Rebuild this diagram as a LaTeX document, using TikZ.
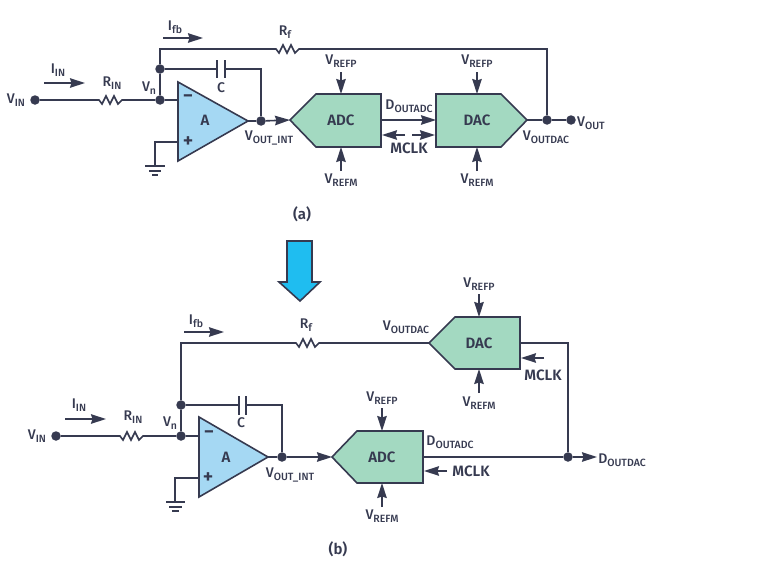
\documentclass[tikz,border=0pt]{standalone}
\usepackage{fontspec}
\usepackage{xcolor}
\usetikzlibrary{arrows.meta}
\setmainfont{Fira Sans Medium}
\newfontfamily\heavyfont{Fira Sans SemiBold}
\definecolor{wire}{HTML}{363A50}
\definecolor{ampblue}{HTML}{A5D8F3}
\definecolor{blockgreen}{HTML}{A3D9C1}
\definecolor{bigblue}{HTML}{1FBDF0}
\newcommand{\vsub}[2]{#1\raisebox{-0.35ex}{\fontsize{10.5}{10.5}\selectfont #2}}
\tikzset{
  wireline/.style={draw=wire, line width=1.6pt},
  dot/.style={circle, fill=wire, inner sep=0pt, minimum size=9.5pt},
  lab/.style={text=wire, inner sep=0pt, font=\fontsize{14}{14}\selectfont},
  blocklab/.style={lab, font=\heavyfont\fontsize{15}{15}\selectfont},
  signlab/.style={lab, font=\heavyfont\fontsize{20}{20}\selectfont},
  flow/.style={wireline, -{Stealth[length=15pt, width=9.5pt, inset=1.5pt]}},
  res/.style={to path={-- ++(3,4) -- ++(4,-8) -- ++(4,8) -- ++(4,-8) -- ++(4,8) -- ++(4,-4) \tikztonodes}},
}
\begin{document}
\begin{tikzpicture}[x=1pt, y=-1pt]
  \useasboundingbox (0,0) rectangle (770,578);

  \node[dot] (vinA) at (35,100) {};
  \node[dot] (vnA) at (160,100) {};
  \node[dot] (fbA) at (160,69) {};
  \node[dot] (intA) at (261,121) {};
  \node[dot] (sumA) at (547,120) {};
  \node[dot] (voutA) at (571,120) {};
  \coordinate (cornerA) at (160,49);
  \coordinate (cornerB) at (547,49);
  \coordinate (rinL) at (99,100);
  \coordinate (rinR) at (122,100);
  \coordinate (rfL) at (276,49);
  \coordinate (rfR) at (299,49);
  \coordinate (capL) at (217,69);
  \coordinate (capR) at (225,69);
  \coordinate (capC) at (261,69);

  \draw[wireline, fill=ampblue] (178,82) coordinate (ampTop) -- (248,121) coordinate (ampTip) -- (178,161) coordinate (ampBot) -- cycle;
  \draw[wireline, fill=blockgreen] (290,120) coordinate (adcTip) -- (316,94) -- (381,94) -- (381,147) -- (316,147) -- cycle;
  \draw[wireline, fill=blockgreen] (436,94) -- (501,94) -- (527,120) coordinate (dacTip) -- (501,147) -- (436,147) -- cycle;

  \draw[wireline] (vinA) -- (rinL) to[res] (rinR) -- (vnA) -- (178,100);
  \draw[wireline] (vnA) -- (fbA) -- (cornerA) -- (rfL) to[res] (rfR) -- (cornerB) -- (sumA);
  \draw[wireline] (fbA) -- (capL) (capR) -- (capC) -- (intA);
  \draw[wireline] (217,60) -- (217,78) (225,60) -- (225,78);
  \draw[wireline] (ampTip) -- (intA);
  \draw[flow] (intA) -- (adcTip);
  \draw[wireline] (dacTip) -- (sumA) -- (voutA);
  \draw[wireline] (178,142) -- (155,142) -- (155,166);
  \draw[wireline] (145,166) -- (165,166) (149,171) -- (161,171) (152,175) -- (158,175);

  \draw[flow] (44,83) -- (85,83);
  \draw[flow] (163,38) -- (203,38);
  \draw[flow] (381,120) -- (436,120);
  \draw[flow] (405,135) -- (382,135);
  \draw[flow] (412,135) -- (435,135);
  \draw[flow] (341,72) -- (341,94);
  \draw[flow] (341,171) -- (341,147);
  \draw[flow] (477,72) -- (477,94);
  \draw[flow] (477,171) -- (477,147);

  \node[lab] (vinAl) at (16,100) {\vsub{V}{IN}};
  \node[lab] (iinAl) at (58,70) {\vsub{I}{IN}};
  \node[lab] (rinAl) at (112,83) {\vsub{R}{IN}};
  \node[lab] (vnAl) at (149,88) {\vsub{V}{n}};
  \node[lab] (ifbAl) at (175,27) {\vsub{I}{fb}};
  \node[lab] (rfAl) at (285,32) {\vsub{R}{f}};
  \node[lab] (cAl) at (221,88) {C};
  \node[blocklab] (ampAl) at (205,120) {A};
  \node[signlab] (minusAl) at (188,99) {−};
  \node[signlab] (plusAl) at (188,142) {+};
  \node[lab] (intAl) at (269,138) {\vsub{V}{OUT\_INT}};
  \node[blocklab] (adcAl) at (341,120) {ADC};
  \node[blocklab] (dacAl) at (477,120) {DAC};
  \node[lab] (doutAl) at (409,106) {\vsub{D}{OUTADC}};
  \node[blocklab] (mclkAl) at (409,148) {MCLK};
  \node[lab] (vdacAl) at (546,137) {\vsub{V}{OUTDAC}};
  \node[lab] (voutAl) at (591,123) {\vsub{V}{OUT}};
  \node[lab] (prefAl) at (341,61) {\vsub{V}{REFP}};
  \node[lab] (mrefAl) at (341,180) {\vsub{V}{REFM}};
  \node[lab] (prefBl) at (477,61) {\vsub{V}{REFP}};
  \node[lab] (mrefBl) at (477,180) {\vsub{V}{REFM}};
  \node[blocklab] (capA) at (302,214) {(a)};

  \draw[wireline, fill=bigblue] (287,241) -- (312,241) -- (312,282) -- (320,282) -- (300,301) -- (279,282) -- (287,282) -- cycle;

  \node[dot] (vinB) at (56,436) {};
  \node[dot] (vnB) at (181,436) {};
  \node[dot] (fbB) at (181,405) {};
  \node[dot] (intB) at (282,457) {};
  \node[dot] (sumB) at (568,457) {};
  \coordinate (cornerC) at (181,343);
  \coordinate (rinLB) at (120,436);
  \coordinate (rinRB) at (143,436);
  \coordinate (rfLB) at (296,343);
  \coordinate (rfRB) at (319,343);
  \coordinate (capLB) at (239,405);
  \coordinate (capRB) at (246,405);
  \coordinate (capCB) at (282,405);
  \coordinate (dacOut) at (568,343);

  \draw[wireline, fill=ampblue] (199,417) -- (268,457) coordinate (ampTipB) -- (199,497) -- cycle;
  \draw[wireline, fill=blockgreen] (332,457) coordinate (adcTipB) -- (357,431) -- (423,431) -- (423,483) -- (357,483) -- cycle;
  \draw[wireline, fill=blockgreen] (429,343) coordinate (dacTipB) -- (455,317) -- (520,317) -- (520,369) -- (455,369) -- cycle;

  \draw[wireline] (vinB) -- (rinLB) to[res] (rinRB) -- (vnB) -- (199,436);
  \draw[wireline] (vnB) -- (fbB) -- (cornerC) -- (rfLB) to[res] (rfRB) -- (dacTipB);
  \draw[wireline] (fbB) -- (capLB) (capRB) -- (capCB) -- (intB);
  \draw[wireline] (239,396) -- (239,415) (246,396) -- (246,415);
  \draw[wireline] (ampTipB) -- (intB);
  \draw[flow] (intB) -- (adcTipB);
  \draw[wireline] (520,343) -- (dacOut) -- (sumB);
  \draw[wireline] (423,457) -- (sumB);
  \draw[flow] (sumB) -- (597,457);
  \draw[wireline] (199,478) -- (175,478) -- (175,502);
  \draw[wireline] (166,502) -- (185,502) (169,507) -- (182,507) (172,511) -- (179,511);

  \draw[flow] (65,419) -- (106,419);
  \draw[flow] (184,332) -- (224,332);
  \draw[flow] (447,471) -- (424,471);
  \draw[flow] (544,358) -- (521,358);
  \draw[flow] (479,294) -- (479,317);
  \draw[flow] (479,393) -- (479,369);
  \draw[flow] (382,408) -- (382,431);
  \draw[flow] (382,507) -- (382,483);

  \node[lab] (vinBl) at (37,436) {\vsub{V}{IN}};
  \node[lab] (iinBl) at (79,405) {\vsub{I}{IN}};
  \node[lab] (rinBl) at (133,417) {\vsub{R}{IN}};
  \node[lab] (vnBl) at (170,423) {\vsub{V}{n}};
  \node[lab] (ifbBl) at (196,321) {\vsub{I}{fb}};
  \node[lab] (rfBl) at (306,325) {\vsub{R}{f}};
  \node[lab] (cBl) at (241,423) {C};
  \node[blocklab] (ampBl) at (226,457) {A};
  \node[signlab] (minusBl) at (209,435) {−};
  \node[signlab] (plusBl) at (208,478) {+};
  \node[lab] (intBl) at (290,475) {\vsub{V}{OUT\_INT}};
  \node[blocklab] (adcBl) at (382,457) {ADC};
  \node[blocklab] (dacBl) at (479,343) {DAC};
  \node[lab] (doutBl) at (450,442) {\vsub{D}{OUTADC}};
  \node[lab] (vdacBl) at (406,327) {\vsub{V}{OUTDAC}};
  \node[lab] (ddacBl) at (622,460) {\vsub{D}{OUTDAC}};
  \node[blocklab] (mclkBl) at (471,471) {MCLK};
  \node[blocklab] (mclkCl) at (543,375) {MCLK};
  \node[lab] (prefCl) at (479,284) {\vsub{V}{REFP}};
  \node[lab] (mrefCl) at (479,403) {\vsub{V}{REFM}};
  \node[lab] (prefDl) at (382,398) {\vsub{V}{REFP}};
  \node[lab] (mrefDl) at (382,516) {\vsub{V}{REFM}};
  \node[blocklab] (capB) at (338,549) {(b)};
\end{tikzpicture}
\end{document}
